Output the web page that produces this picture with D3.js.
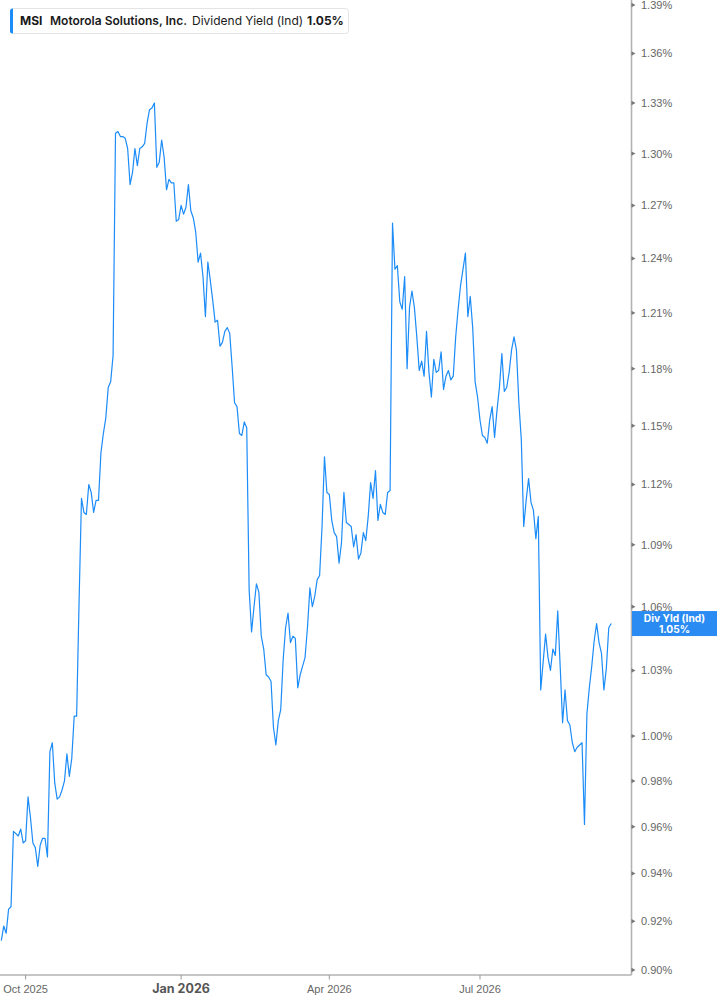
<!DOCTYPE html>
<html><head><meta charset="utf-8">
<script src="https://cdn.jsdelivr.net/npm/d3@7"></script>
<style>body{margin:0;background:#fff}svg{display:block}</style>
</head><body>
<svg id="c" width="717" height="1005"></svg>
<script>
// ---- data ----
const ticker = "MSI";
const company = "Motorola Solutions, Inc.";
const metric = "Dividend Yield (Ind)";
const shortMetric = "Div Yld (Ind)";
const startDate = "2025-09-17";
const endDate = "2026-09-17";
const holidays = ["2025-11-27","2025-12-25","2026-01-01","2026-01-19","2026-02-16",
  "2026-04-03","2026-05-25","2026-06-19","2026-07-03","2026-09-07"];
const yields = [
 0.912,0.918,0.915,0.925,0.926,0.958,0.957,0.956,0.959,0.953,
 0.954,0.973,0.964,0.953,0.951,0.943,0.952,0.955,0.955,0.947,
 0.993,0.997,0.979,0.972,0.973,0.976,0.980,0.992,0.982,0.990,
 1.009,1.009,1.062,1.113,1.106,1.105,1.120,1.116,1.106,1.112,
 1.112,1.136,1.146,1.154,1.170,1.173,1.187,1.312,1.313,1.310,
 1.310,1.309,1.303,1.282,1.289,1.303,1.293,1.303,1.304,1.306,
 1.318,1.326,1.327,1.330,1.292,1.295,1.308,1.298,1.279,1.285,
 1.283,1.283,1.261,1.262,1.270,1.265,1.269,1.282,1.267,1.263,
 1.255,1.238,1.243,1.230,1.208,1.238,1.228,1.217,1.205,1.206,
 1.192,1.194,1.200,1.202,1.199,1.181,1.162,1.160,1.146,1.145,
 1.152,1.149,1.068,1.048,1.060,1.071,1.067,1.046,1.040,1.028,
 1.027,1.025,1.004,0.996,1.007,1.012,1.035,1.050,1.057,1.043,
 1.046,1.045,1.022,1.028,1.032,1.036,1.050,1.069,1.060,1.065,
 1.073,1.075,1.099,1.134,1.116,1.115,1.102,1.096,1.094,1.081,
 1.091,1.116,1.101,1.100,1.099,1.089,1.095,1.083,1.086,1.096,
 1.092,1.104,1.121,1.113,1.127,1.102,1.110,1.106,1.105,1.116,
 1.117,1.260,1.234,1.236,1.216,1.212,1.230,1.180,1.213,1.222,
 1.213,1.197,1.179,1.184,1.176,1.200,1.178,1.165,1.185,1.178,
 1.179,1.189,1.169,1.176,1.179,1.174,1.176,1.197,1.212,1.225,
 1.234,1.243,1.208,1.219,1.202,1.173,1.165,1.153,1.145,1.144,
 1.141,1.153,1.160,1.144,1.158,1.170,1.188,1.168,1.170,1.178,
 1.190,1.197,1.190,1.162,1.143,1.099,1.112,1.123,1.111,1.107,
 1.093,1.104,1.021,1.034,1.047,1.036,1.030,1.040,1.037,1.058,
 1.032,1.006,1.021,1.007,1.005,0.997,0.993,0.995,0.996,0.997,
 0.961,1.010,1.022,1.032,1.044,1.052,1.043,1.038,1.021,1.031,
 1.050,1.052
];
const yTicks = [0.90,0.92,0.94,0.96,0.98,1.00,1.03,1.06,1.09,1.12,1.15,1.18,1.21,1.24,1.27,1.30,1.33,1.36,1.39];
const xTickDates = ["2025-10-01","2026-01-02","2026-04-01","2026-07-01"];
const xTickLabels = ["Oct 2025","Jan 2026","Apr 2026","Jul 2026"];
const xTickBold = [false,true,false,false];

// ---- build trading-day calendar ----
const parse = d3.timeParse("%Y-%m-%d"), fmt = d3.timeFormat("%Y-%m-%d");
const dates = d3.timeDay.range(parse(startDate), d3.timeDay.offset(parse(endDate),1))
  .filter(d => d.getDay() % 6 !== 0 && !holidays.includes(fmt(d)))
  .map(fmt);
const data = yields.map((v,i)=>({date:dates[i], v}));

// ---- layout ----
const axisX = 631.5, axisY = 975;
const svg = d3.select("#c");
const x = d3.scalePoint().domain(dates).range([1.3, 611.2]);
const y = d3.scaleLog().domain([0.90, 1.39]).range([970, 5]);
const FONT = "Inter, 'Liberation Sans', Arial, sans-serif";
const BLUE = "#1c8cf8";

// axes lines
svg.append("line").attr("x1",axisX).attr("x2",axisX).attr("y1",0).attr("y2",axisY)
  .attr("stroke","#b3b3b3").attr("stroke-width",1.6);
svg.append("line").attr("x1",0).attr("x2",axisX).attr("y1",axisY).attr("y2",axisY)
  .attr("stroke","#b3b3b3").attr("stroke-width",1.6);

// y axis ticks + labels
const yg = svg.append("g");
yTicks.forEach(t=>{
  const yy = y(t);
  yg.append("path").attr("d",`M${axisX},${yy-2.2}L${axisX+4},${yy}L${axisX},${yy+2.2}Z`).attr("fill","#777");
  yg.append("text").attr("x",641).attr("y",yy).attr("dy","0.36em")
    .attr("font-family","'Liberation Sans', Arial, sans-serif").attr("font-size",11).attr("fill","#666")
    .text(d3.format(".2f")(t)+"%");
});

// x axis ticks + labels
const xg = svg.append("g");
xTickDates.forEach((d,i)=>{
  const xx = x(d);
  xg.append("line").attr("x1",xx).attr("x2",xx).attr("y1",axisY).attr("y2",axisY+4.5)
    .attr("stroke","#999").attr("stroke-width",1);
  xg.append("text").attr("x",xx).attr("y",992.5).attr("text-anchor","middle")
    .attr("font-family", xTickBold[i] ? FONT : "'Liberation Sans', Arial, sans-serif")
    .attr("font-size", xTickBold[i] ? 12.5 : 11)
    .attr("font-weight", xTickBold[i] ? 700 : 400)
    .attr("fill", xTickBold[i] ? "#555" : "#666")
    .text(xTickLabels[i]);
});

// line
svg.append("path").datum(data)
  .attr("fill","none").attr("stroke",BLUE).attr("stroke-width",1.2).attr("stroke-linejoin","round")
  .attr("d", d3.line().x(d=>x(d.date)).y(d=>y(d.v)));

// last value label
const last = data[data.length-1];
const ly = y(last.v);
svg.append("rect").attr("x",axisX+0.5).attr("y",ly-12.5).attr("width",717-axisX).attr("height",25).attr("fill","#2a8cf2");
svg.append("text").attr("x",674.5).attr("y",ly-5.6).attr("dy","0.35em").attr("text-anchor","middle")
  .attr("font-family",FONT).attr("font-size",10.2).attr("font-weight",700).attr("fill","#fff").text(shortMetric);
svg.append("text").attr("x",674.5).attr("y",ly+5.6).attr("dy","0.35em").attr("text-anchor","middle")
  .attr("font-family",FONT).attr("font-size",10.2).attr("font-weight",700).attr("fill","#fff")
  .text(d3.format(".2f")(last.v)+"%");

// legend
const lg = svg.append("g");
lg.append("rect").attr("x",10.5).attr("y",8.5).attr("width",338).attr("height",25).attr("rx",3)
  .attr("fill","#fff").attr("stroke","#e4e4e4");
lg.append("path").attr("d","M13,8.5 L13,33.5 L12.5,33.5 Q10,33.5 10,31 L10,11 Q10,8.5 12.5,8.5 Z").attr("fill",BLUE);
const items = [
  {t:ticker, x:20, w:700},
  {t:company, x:50, w:600},
  {t:metric, x:192, w:400},
  {t:d3.format(".2f")(last.v)+"%", x:307, w:700}
];
items.forEach(it=>{
  lg.append("text").attr("x",it.x).attr("y",25).attr("font-family",FONT).attr("font-size",12)
    .attr("font-weight",it.w).attr("fill","#1a1a1a").text(it.t);
});
</script>
</body></html>
